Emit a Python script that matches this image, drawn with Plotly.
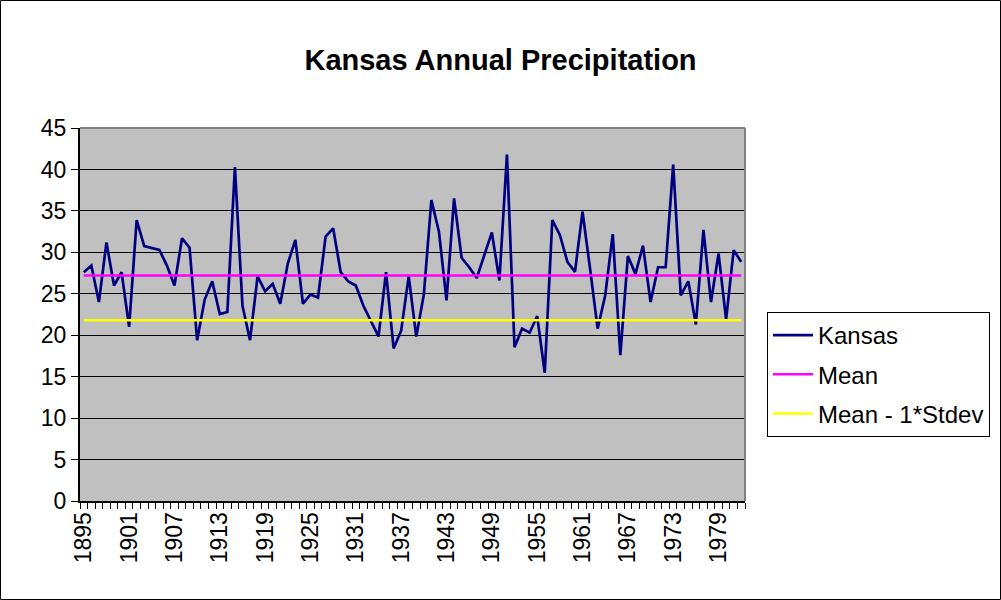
import plotly.graph_objects as go

years = list(range(1895, 1983))
kansas = [
    27.6, 28.4, 24.0, 31.2, 26.0, 27.6, 21.0, 33.9, 30.75, 30.5,
    30.3, 28.4, 26.0, 31.7, 30.55, 19.4, 24.3, 26.5, 22.55, 22.8,
    40.3, 23.55, 19.4, 27.1, 25.3, 26.2, 23.8, 28.65, 31.5, 23.8,
    24.9, 24.55, 31.9, 32.9, 27.6, 26.5, 26.0, 23.55, 21.7, 19.85,
    27.6, 18.4, 20.55, 27.1, 19.85, 24.9, 36.3, 32.5, 24.2, 36.5,
    29.35, 28.2, 26.9, 29.7, 32.4, 26.6, 41.8, 18.55, 20.8, 20.3,
    22.3, 15.45, 33.9, 32.1, 28.85, 27.65, 34.9, 28.0, 20.8, 24.8,
    32.2, 17.6, 29.55, 27.4, 30.8, 24.0, 28.2, 28.2, 40.6, 24.8,
    26.5, 21.3, 32.7, 24.0, 29.85, 21.9, 30.25, 28.85,
]
mean_value = 27.2
mean_minus_sd_value = 21.8
tick_years = list(range(1895, 1983, 6))
y_ticks = list(range(0, 50, 5))

font_family = "Liberation Sans, Arial, sans-serif"

fig = go.Figure()
fig.add_trace(go.Scatter(x=years, y=kansas, mode="lines", name="Kansas",
                         line=dict(color="#000080", width=2.7), legendgroup="a"))
fig.add_trace(go.Scatter(x=years, y=[mean_value] * len(years), mode="lines", name="Mean",
                         line=dict(color="#FF00FF", width=2.5), legendgroup="b"))
fig.add_trace(go.Scatter(x=years, y=[mean_minus_sd_value] * len(years), mode="lines",
                         name="Mean - 1*Stdev",
                         line=dict(color="#FFFF00", width=2.5), legendgroup="c"))

L, R, T, B = 80, 256, 128, 99
W, H = 1001, 600
pw, ph = W - L - R, H - T - B

def px(x):
    return (x - L) / pw

def py(y):
    return (H - B - y) / ph

fig.update_layout(
    width=W, height=H,
    margin=dict(l=L, r=R, t=T, b=B, pad=0, autoexpand=False),
    paper_bgcolor="white",
    plot_bgcolor="#C0C0C0",
    font=dict(family=font_family, size=23, color="black"),
    title=dict(text="<b>Kansas Annual Precipitation</b>", x=0.5, xref="container",
               xanchor="center", y=1 - 60 / H, yref="container", yanchor="middle",
               font=dict(size=29, family=font_family, color="black")),
    showlegend=True,
    legend=dict(x=px(767), xanchor="left", y=py(312), yanchor="top",
                bordercolor="black", borderwidth=1, bgcolor="white",
                font=dict(size=24, family=font_family),
                tracegroupgap=5, itemwidth=40),
    xaxis=dict(range=[1894.5, 1982.5], tickmode="array", tickvals=tick_years,
               ticktext=[str(y) for y in tick_years], tickangle=-90,
               ticks="outside", ticklen=0, showgrid=False, zeroline=False,
               showline=True, linecolor="black", linewidth=2,
               minor=dict(ticks="outside", ticklen=6, tickcolor="black",
                          tick0=1894.5, dtick=1, showgrid=False),
               tickfont=dict(size=23)),
    yaxis=dict(range=[0, 45], tickmode="array", tickvals=y_ticks,
               ticks="outside", ticklen=7, tickcolor="black",
               showgrid=True, gridcolor="black", gridwidth=1, zeroline=False,
               showline=True, linecolor="black", linewidth=2,
               tickfont=dict(size=23)),
    shapes=[
        dict(type="line", xref="paper", yref="paper", x0=0, x1=1, y0=1, y1=1,
             line=dict(color="#808080", width=2)),
        dict(type="line", xref="paper", yref="paper", x0=1, x1=1, y0=0, y1=1,
             line=dict(color="#808080", width=2)),
        dict(type="rect", xref="paper", yref="paper",
             x0=px(0.5), x1=px(1000.5), y0=py(599.5), y1=py(0.5),
             line=dict(color="black", width=1), layer="below"),
    ],
)

fig.write_html("out.html", config={"displayModeBar": False},
               post_script="document.body.style.margin='0';document.body.style.overflow='hidden';")
